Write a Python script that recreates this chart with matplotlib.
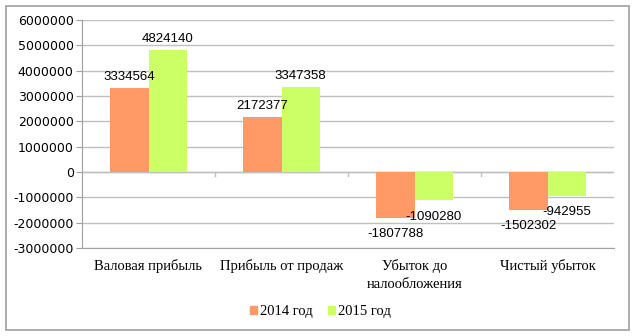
import matplotlib
matplotlib.use("Agg")
import matplotlib.pyplot as plt
from matplotlib.patches import Rectangle, Patch
import numpy as np

categories = ["Валовая прибыль", "Прибыль от продаж", "Убыток до\nналообложения", "Чистый убыток"]
series_names = ["2014 год", "2015 год"]
values_2014 = [3334564, 2172377, -1807788, -1502302]
values_2015 = [4824140, 3347358, -1090280, -942955]
yticks = [-3000000, -2000000, -1000000, 0, 1000000, 2000000, 3000000, 4000000, 5000000, 6000000]

c14 = "#FF9966"
c15 = "#CCFF66"

fig = plt.figure(figsize=(6.35, 3.36), dpi=100)
ax = fig.add_axes([82/635, 1-248/336, (614-82)/635, (248-20)/336])

x = np.arange(len(categories))
w = 0.287
ax.bar(x - w/2, values_2014, w, color=c14, label=series_names[0], zorder=3)
ax.bar(x + w/2, values_2015, w, color=c15, label=series_names[1], zorder=3)

ax.set_xlim(-0.5, len(categories) - 0.5)
ax.set_ylim(-3000000, 6000000)
ax.set_yticks(yticks)
ax.set_yticklabels([str(v) for v in yticks], fontfamily="DejaVu Sans", fontsize=9)
ax.grid(axis="y", color="#c0c0c0", linewidth=1, zorder=0)
ax.set_xticks([])

for s in ["top", "right"]:
    ax.spines[s].set_visible(False)
ax.spines["left"].set_color("#a0a0a0")
ax.spines["bottom"].set_color("#a0a0a0")
ax.tick_params(axis="y", length=4, color="#a0a0a0", pad=2)

# zero line with tick marks at category boundaries
ax.axhline(0, color="#c0c0c0", linewidth=1, zorder=2)
for xb in np.arange(0.5, len(categories) - 0.5, 1.0):
    ax.plot([xb, xb], [0, -150000], color="#c0c0c0", linewidth=1, zorder=2, clip_on=False)

# category labels
for xi, c in zip(x, categories):
    ax.text(xi, -3000000 - 450000, c, ha="center", va="top", fontfamily="Liberation Serif",
            fontsize=10.5, linespacing=1.45)

# data labels
lab_kw = dict(fontfamily="Liberation Sans", fontsize=9.5, zorder=5)
offs_2014 = [3.5, 3.5, -7, -7]
offs_2015 = [3.5, 3.5, -8, -7]
for xi, v, o in zip(x - w/2, values_2014, offs_2014):
    ax.annotate(str(v), (xi, v), xytext=(0, o), textcoords="offset points",
                ha="center", va="bottom" if v > 0 else "top", **lab_kw)
for xi, v, o in zip(x + w/2, values_2015, offs_2015):
    ax.annotate(str(v), (xi, v), xytext=(0, o), textcoords="offset points",
                ha="center", va="bottom" if v > 0 else "top", **lab_kw)

handles = [Patch(color=c14, label=series_names[0]), Patch(color=c15, label=series_names[1])]
fig.legend(handles=handles, loc="center", bbox_to_anchor=(0.5 + 3/635, 1-312/336), ncol=2, frameon=False,
           prop={"family": "Liberation Serif", "size": 10.5}, handlelength=0.5, handleheight=0.5,
           handletextpad=0.2, columnspacing=1.0)

fig.patches.append(Rectangle((6/635, 1-330/336), (629-6)/635, (330-6)/336, transform=fig.transFigure,
                             fill=False, edgecolor="#a0a0a0", linewidth=1.2))

fig.savefig("out.png", dpi=100)
